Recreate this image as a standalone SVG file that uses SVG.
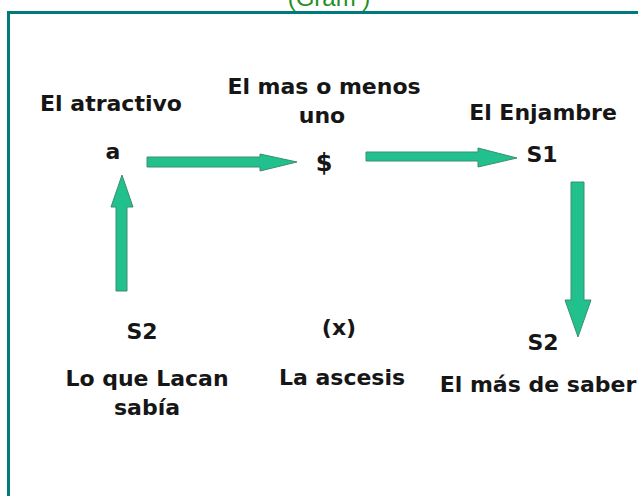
<svg xmlns="http://www.w3.org/2000/svg" width="638" height="496" viewBox="0 0 638 496">
<style>
.t{font-family:"DejaVu Sans","Liberation Sans",sans-serif;font-weight:bold;font-size:22px;fill:#161616;text-anchor:middle}
.title{font-family:"Liberation Sans",Arial,sans-serif;font-size:24px;fill:#1f8f1f;text-anchor:middle}
.arr{fill:#22c08c;stroke:#3a8f70;stroke-width:1}
</style>
<rect width="638" height="496" fill="#ffffff"/>
<text class="title" x="329" y="6">(Gram )</text>
<rect x="8.5" y="12.5" width="640" height="500" fill="none" stroke="#007b7b" stroke-width="3"/>
<g id="connectors">
<polygon class="arr" points="147,157 260,157 260,154 297,162 260,171 260,167 147,167"/>
<polygon class="arr" points="366,152 478,152 478,148 517,158 478,167 478,161 366,161"/>
<polygon class="arr" points="116,291 116,207 111,207 122,175 133,207 127,207 127,291"/>
<polygon class="arr" points="571,182 584,182 584,300 591,300 578,337 565,300 571,300"/>
</g>
<g id="node-a">
<text class="t" x="111" y="111">El atractivo</text>
<text class="t" x="113" y="159">a</text>
</g>
<g id="node-barred-s">
<text class="t" x="324" y="94">El mas o menos</text>
<text class="t" x="322" y="123">uno</text>
<text class="t" x="324" y="171" style="font-size:24px">$</text>
</g>
<g id="node-s1">
<text class="t" x="543" y="120">El Enjambre</text>
<text class="t" x="542" y="162">S1</text>
</g>
<g id="node-s2-left">
<text class="t" x="142" y="339">S2</text>
<text class="t" x="147" y="386">Lo que Lacan</text>
<text class="t" x="147" y="415">sabía</text>
</g>
<g id="node-x">
<text class="t" x="339" y="335">(x)</text>
<text class="t" x="342" y="385">La ascesis</text>
</g>
<g id="node-s2-right">
<text class="t" x="543" y="350">S2</text>
<text class="t" x="538" y="392">El más de saber</text>
</g>
</svg>
